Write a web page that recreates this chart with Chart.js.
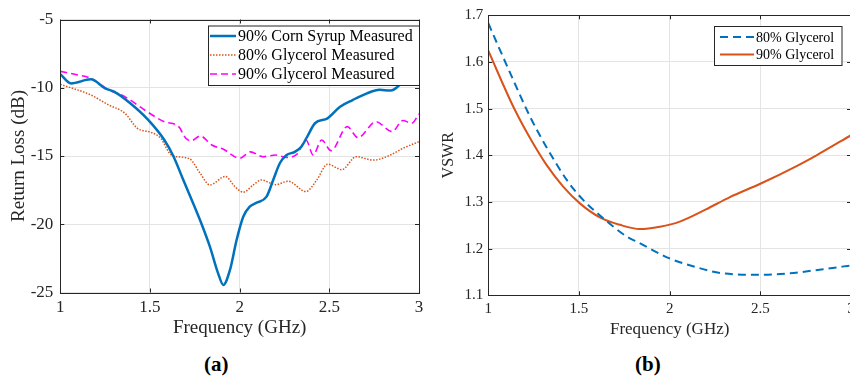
<!DOCTYPE html>
<html>
<head>
<meta charset="utf-8">
<script src="https://cdn.jsdelivr.net/npm/chart.js@4.4.0/dist/chart.umd.min.js"></script>
<style>
  html, body { margin: 0; padding: 0; width: 850px; height: 380px; overflow: hidden; background: #fff; }
  canvas { position: absolute; top: 0; }
  #graficoA { left: 0; }
  #graficoB { left: 430px; }
  .etichetta { position: absolute; top: 352px; font: bold 21px "Liberation Serif", serif; color: #000; }
</style>
</head>
<body>
<canvas id="graficoA" width="430" height="345"></canvas>
<canvas id="graficoB" width="430" height="345"></canvas>
<div class="etichetta" style="left:204px">(a)</div>
<div class="etichetta" style="left:635px">(b)</div>
<script>
// (a) Return loss misurato
const freqCorn = [1.00, 1.06, 1.17, 1.25, 1.30, 1.39, 1.49, 1.58, 1.63, 1.686, 1.779, 1.834, 1.88, 1.909, 1.946, 1.983, 2.02, 2.056, 2.095, 2.15, 2.187, 2.224, 2.26, 2.31, 2.345, 2.38, 2.42, 2.49, 2.56, 2.63, 2.71, 2.78, 2.84, 2.89, 2.92, 3.00];
const rlCorn = [-9.0, -9.68, -9.38, -10.04, -10.29, -11.14, -12.36, -13.83, -15.0, -16.76, -19.69, -21.64, -23.6, -24.45, -23.35, -21.15, -19.45, -18.71, -18.42, -17.98, -16.76, -15.53, -14.95, -14.68, -14.3, -13.5, -12.6, -12.24, -11.39, -10.9, -10.41, -10.15, -10.2, -9.8, -9.23, -9.23];

const freqGly80 = [1.00, 1.17, 1.27, 1.36, 1.43, 1.51, 1.56, 1.62, 1.72, 1.78, 1.834, 1.92, 1.974, 2.02, 2.076, 2.12, 2.20, 2.27, 2.37, 2.43, 2.49, 2.57, 2.65, 2.745, 2.84, 2.91, 3.00];
const rlGly80 = [-9.75, -10.53, -11.26, -11.87, -12.97, -13.29, -13.7, -14.93, -15.2, -16.27, -17.12, -16.5, -17.25, -17.65, -17.12, -16.76, -17.1, -16.85, -17.6, -16.76, -15.6, -16.0, -15.05, -15.3, -14.93, -14.44, -13.95];

const freqGly90 = [1.00, 1.10, 1.17, 1.27, 1.36, 1.47, 1.58, 1.66, 1.70, 1.73, 1.78, 1.844, 1.91, 2.00, 2.06, 2.13, 2.20, 2.26, 2.32, 2.37, 2.41, 2.457, 2.51, 2.60, 2.66, 2.76, 2.85, 2.91, 2.96, 3.00];
const rlGly90 = [-8.8, -9.07, -9.31, -10.16, -10.65, -11.63, -12.49, -12.85, -13.7, -13.88, -13.53, -14.19, -14.51, -15.17, -14.7, -15.05, -14.93, -15.1, -14.86, -13.83, -14.93, -13.83, -14.61, -12.85, -13.66, -12.49, -13.22, -12.4, -12.6, -11.9];

// (b) VSWR simulato
const freqVswr80 = [1.00, 1.064, 1.138, 1.23, 1.32, 1.44, 1.524, 1.634, 1.763, 1.818, 2.00, 2.149, 2.277, 2.50, 2.66, 2.847, 3.00];
const vswr80 = [1.683, 1.626, 1.561, 1.483, 1.418, 1.343, 1.304, 1.265, 1.226, 1.215, 1.179, 1.160, 1.148, 1.144, 1.147, 1.156, 1.164];

const freqVswr90 = [1.00, 1.138, 1.23, 1.32, 1.413, 1.505, 1.615, 1.726, 1.836, 1.946, 2.056, 2.20, 2.33, 2.50, 2.70, 2.81, 3.00];
const vswr90 = [1.624, 1.504, 1.437, 1.380, 1.333, 1.297, 1.267, 1.251, 1.242, 1.247, 1.258, 1.284, 1.310, 1.339, 1.377, 1.40, 1.443];

const tickFreq = [1, 1.5, 2, 2.5, 3];

const coppie = (xs, ys) => xs.map((x, i) => ({ x: x, y: ys[i] }));
const TESTO = "#262626";

// cornice con tacche interne (stile MATLAB) e legenda in riquadro
const cornice = {
    id: "cornice",
    afterDatasetsDraw(chart, args, opts) {
        const { ctx, chartArea: a, scales } = chart;
        ctx.save();
        ctx.strokeStyle = TESTO;
        ctx.lineWidth = 1;
        ctx.setLineDash([]);
        ctx.beginPath();
        scales.x.ticks.forEach(t => {
            const px = Math.round(scales.x.getPixelForValue(t.value)) + 0.5;
            ctx.moveTo(px, a.bottom); ctx.lineTo(px, a.bottom - 4);
            ctx.moveTo(px, a.top); ctx.lineTo(px, a.top + 4);
        });
        scales.y.ticks.forEach(t => {
            const py = Math.round(scales.y.getPixelForValue(t.value)) + 0.5;
            ctx.moveTo(a.left, py); ctx.lineTo(a.left + 4, py);
            ctx.moveTo(a.right, py); ctx.lineTo(a.right - 4, py);
        });
        ctx.stroke();
        ctx.strokeRect(Math.round(a.left) + 0.5, Math.round(a.top) + 0.5, Math.round(a.width), Math.round(a.height));

        // legenda
        const L = opts;
        ctx.fillStyle = "#fff";
        ctx.fillRect(L.left, L.top, L.width, L.height);
        ctx.strokeRect(L.left + 0.5, L.top + 0.5, L.width, L.height);
        ctx.font = L.font;
        ctx.textBaseline = "middle";
        chart.data.datasets.forEach((ds, i) => {
            const y = L.top + L.first + i * L.row;
            ctx.strokeStyle = ds.borderColor;
            ctx.lineWidth = ds.borderWidth;
            ctx.setLineDash(ds.borderDash || []);
            ctx.beginPath();
            ctx.moveTo(L.left + L.pad, y);
            ctx.lineTo(L.left + L.pad + L.sample, y);
            ctx.stroke();
            ctx.fillStyle = "#000";
            ctx.fillText(ds.label, L.left + L.pad + L.sample + 2, y + 1);
        });
        ctx.restore();
    }
};

function assi(cfg) {
    return {
        x: {
            type: "linear", min: 1, max: 3,
            afterBuildTicks: s => { s.ticks = tickFreq.map(v => ({ value: v })); },
            afterFit: s => { s.height = cfg.xh; },
            ticks: { color: TESTO, font: { family: "Liberation Serif", size: cfg.tick }, padding: cfg.xpad, maxRotation: 0, callback: v => String(v) },
            grid: { color: "#e4e4e4", drawTicks: false },
            border: { display: false },
            title: { display: true, text: "Frequency (GHz)", color: TESTO, font: { family: "Liberation Serif", size: cfg.title }, padding: { top: 0, bottom: cfg.titlePad } }
        },
        y: {
            min: cfg.ymin, max: cfg.ymax,
            ticks: { stepSize: cfg.step, color: TESTO, font: { family: "Liberation Serif", size: cfg.tick }, padding: cfg.ypad, callback: cfg.fmt },
            afterFit: s => { s.width = cfg.yw; },
            grid: { color: "#e4e4e4", drawTicks: false },
            border: { display: false },
            title: { display: true, text: cfg.ytitle, color: TESTO, font: { family: "Liberation Serif", size: cfg.ytitleSize }, padding: { top: cfg.ytitlePad, bottom: 0 } }
        }
    };
}

const baseLinea = { pointRadius: 0, fill: false, cubicInterpolationMode: "monotone" };

new Chart(document.getElementById("graficoA"), {
    type: "line",
    data: {
        datasets: [
            Object.assign({ label: "90% Corn Syrup Measured", data: coppie(freqCorn, rlCorn), borderColor: "#0072BD", borderWidth: 2.5 }, baseLinea),
            Object.assign({ label: "80% Glycerol Measured", data: coppie(freqGly80, rlGly80), borderColor: "#D95319", borderWidth: 1.5, borderDash: [1.5, 1.5] }, baseLinea),
            Object.assign({ label: "90% Glycerol Measured", data: coppie(freqGly90, rlGly90), borderColor: "#FF00FF", borderWidth: 1.6, borderDash: [7, 4] }, baseLinea)
        ]
    },
    options: {
        responsive: false, animation: false, devicePixelRatio: 1,
        layout: { padding: { left: 0, right: 11, top: 19.5, bottom: 0 } },
        scales: assi({ xh: 52.5, yw: 60.3, tick: 17, title: 19, ytitleSize: 19, xpad: 5, ypad: 7, titlePad: 5.6, ytitlePad: 8,
            ymin: -25, ymax: -5, step: 5, ytitle: "Return Loss (dB)", fmt: v => String(v) }),
        plugins: {
            legend: { display: false }, tooltip: { enabled: false },
            cornice: { left: 208, top: 25.5, width: 211, height: 59.5, first: 10.5, row: 19, pad: 2, sample: 26, font: '16px "Liberation Serif"' }
        }
    },
    plugins: [cornice]
});

new Chart(document.getElementById("graficoB"), {
    type: "line",
    data: {
        datasets: [
            Object.assign({ label: "80% Glycerol", data: coppie(freqVswr80, vswr80), borderColor: "#0072BD", borderWidth: 2, borderDash: [8, 5] }, baseLinea),
            Object.assign({ label: "90% Glycerol", data: coppie(freqVswr90, vswr90), borderColor: "#D95319", borderWidth: 2 }, baseLinea)
        ]
    },
    options: {
        responsive: false, animation: false, devicePixelRatio: 1,
        layout: { padding: { left: 0, right: 9, top: 15.3, bottom: 0 } },
        scales: assi({ xh: 49.7, yw: 58.3, tick: 15, title: 17, ytitleSize: 16, xpad: 5, ypad: 5, titlePad: 4.8, ytitlePad: 9,
            ymin: 1.1, ymax: 1.7, step: 0.1, ytitle: "VSWR", fmt: v => v.toFixed(1) }),
        plugins: {
            legend: { display: false }, tooltip: { enabled: false },
            cornice: { left: 284, top: 26, width: 127.5, height: 39, first: 11, row: 17.5, pad: 6, sample: 34, font: '14px "Liberation Serif"' }
        }
    },
    plugins: [cornice]
});
</script>
</body>
</html>
